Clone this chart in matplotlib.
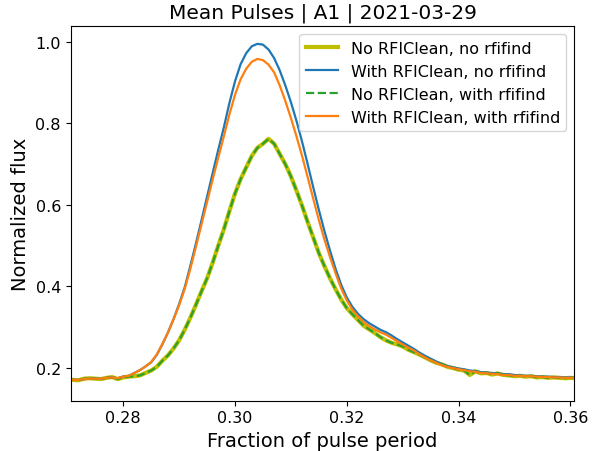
import matplotlib
matplotlib.use("Agg")
import matplotlib.pyplot as plt

# pulse phase (fraction of period)
phase = [
    0.270, 0.271, 0.272, 0.273, 0.274, 0.275, 0.276, 0.277, 0.278, 0.279,
    0.280, 0.281, 0.282, 0.283, 0.284, 0.285, 0.286, 0.287, 0.288, 0.289,
    0.290, 0.291, 0.292, 0.293, 0.294, 0.295, 0.296, 0.297, 0.298, 0.299,
    0.300, 0.301, 0.302, 0.303, 0.304, 0.305, 0.306, 0.307, 0.308, 0.309,
    0.310, 0.311, 0.312, 0.313, 0.314, 0.315, 0.316, 0.317, 0.318, 0.319,
    0.320, 0.321, 0.322, 0.323, 0.324, 0.325, 0.326, 0.327, 0.328, 0.329,
    0.330, 0.331, 0.332, 0.333, 0.334, 0.335, 0.336, 0.337, 0.338, 0.339,
    0.340, 0.341, 0.342, 0.343, 0.344, 0.345, 0.346, 0.347, 0.348, 0.349,
    0.350, 0.351, 0.352, 0.353, 0.354, 0.355, 0.356, 0.357, 0.358, 0.359,
    0.360, 0.361,
]

# no RFIClean (with and without rfifind overlap)
no_clean_no_rfi = [
    0.171, 0.171, 0.170, 0.174, 0.175, 0.174, 0.173, 0.176, 0.178, 0.173,
    0.177, 0.179, 0.180, 0.182, 0.188, 0.194, 0.203, 0.218, 0.231, 0.248,
    0.268, 0.294, 0.323, 0.355, 0.388, 0.420, 0.458, 0.500, 0.540, 0.585,
    0.628, 0.663, 0.692, 0.720, 0.740, 0.750, 0.762, 0.750, 0.725, 0.700,
    0.670, 0.635, 0.598, 0.558, 0.520, 0.482, 0.450, 0.420, 0.393, 0.368,
    0.347, 0.332, 0.318, 0.304, 0.295, 0.286, 0.276, 0.268, 0.262, 0.258,
    0.253, 0.245, 0.239, 0.233, 0.226, 0.219, 0.213, 0.209, 0.203, 0.200,
    0.196, 0.194, 0.183, 0.192, 0.187, 0.188, 0.184, 0.187, 0.183, 0.182,
    0.180, 0.181, 0.179, 0.180, 0.177, 0.178, 0.176, 0.177, 0.176, 0.175,
    0.176, 0.175,
]
no_clean_rfi = list(no_clean_no_rfi)

clean_no_rfi = [
    0.171, 0.171, 0.171, 0.173, 0.174, 0.174, 0.174, 0.176, 0.177, 0.175,
    0.179, 0.181, 0.188, 0.195, 0.204, 0.214, 0.232, 0.258, 0.287, 0.320,
    0.357, 0.398, 0.450, 0.505, 0.562, 0.620, 0.678, 0.735, 0.790, 0.850,
    0.903, 0.945, 0.972, 0.989, 0.995, 0.993, 0.981, 0.960, 0.930, 0.893,
    0.852, 0.806, 0.755, 0.700, 0.643, 0.588, 0.536, 0.488, 0.443, 0.404,
    0.373, 0.350, 0.333, 0.320, 0.310, 0.302, 0.294, 0.288, 0.280, 0.271,
    0.263, 0.255, 0.247, 0.238, 0.230, 0.223, 0.216, 0.210, 0.205, 0.202,
    0.199, 0.197, 0.194, 0.193, 0.190, 0.189, 0.188, 0.187, 0.185, 0.185,
    0.183, 0.182, 0.181, 0.181, 0.180, 0.179, 0.179, 0.178, 0.178, 0.177,
    0.177, 0.176,
]

clean_rfi = [
    0.171, 0.171, 0.171, 0.173, 0.174, 0.174, 0.174, 0.176, 0.177, 0.175,
    0.179, 0.181, 0.188, 0.195, 0.204, 0.215, 0.233, 0.259, 0.287, 0.319,
    0.354, 0.394, 0.443, 0.497, 0.552, 0.607, 0.662, 0.716, 0.768, 0.822,
    0.870, 0.908, 0.934, 0.951, 0.958, 0.955, 0.944, 0.925, 0.893, 0.855,
    0.813, 0.768, 0.720, 0.668, 0.615, 0.563, 0.515, 0.472, 0.432, 0.395,
    0.366, 0.343, 0.327, 0.313, 0.303, 0.295, 0.288, 0.282, 0.274, 0.266,
    0.258, 0.250, 0.243, 0.234, 0.226, 0.219, 0.213, 0.207, 0.203, 0.200,
    0.197, 0.195, 0.192, 0.191, 0.188, 0.187, 0.186, 0.185, 0.183, 0.183,
    0.181, 0.181, 0.180, 0.180, 0.179, 0.178, 0.178, 0.177, 0.177, 0.176,
    0.176, 0.176,
]

fig = plt.figure(figsize=(6.03, 4.52), dpi=100)
ax = fig.add_axes([0.1172, 0.1113, 0.8352, 0.8283])

ax.plot(phase, no_clean_no_rfi, color="y", linewidth=3.0, label="No RFIClean, no rfifind")
ax.plot(phase, clean_no_rfi, color="tab:blue", linewidth=1.6, label="With RFIClean, no rfifind")
ax.plot(phase, no_clean_rfi, color="tab:green", linewidth=1.6, linestyle="--",
        label="No RFIClean, with rfifind")
ax.plot(phase, clean_rfi, color="tab:orange", linewidth=1.6, label="With RFIClean, with rfifind")

ax.set_xlim(0.2706, 0.3607)
ax.set_ylim(0.120, 1.038)
ax.set_xticks([0.28, 0.30, 0.32, 0.34, 0.36])
ax.set_yticks([0.2, 0.4, 0.6, 0.8, 1.0])
ax.tick_params(labelsize=11.5)

ax.set_title("Mean Pulses | A1 | 2021-03-29", fontsize=14.5)
ax.set_xlabel("Fraction of pulse period", fontsize=14)
ax.set_ylabel("Normalized flux", fontsize=14)
ax.legend(loc="upper right", fontsize=11.5)

fig.savefig("out.png", dpi=100)
